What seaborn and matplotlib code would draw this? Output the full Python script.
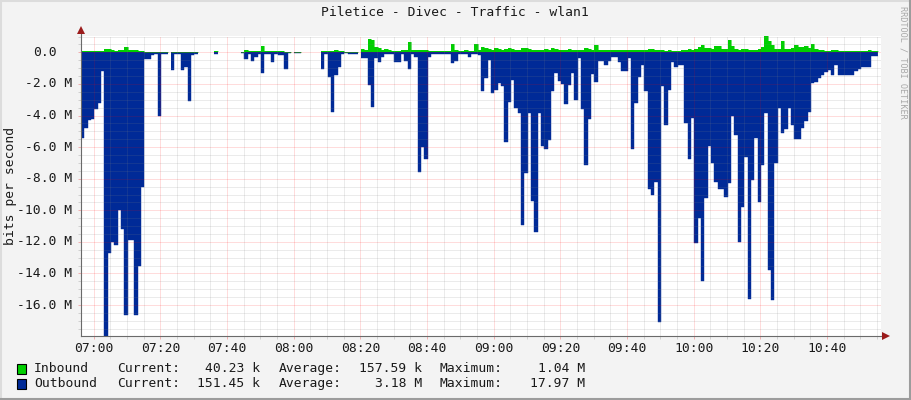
import numpy as np
import matplotlib
matplotlib.use("Agg")
import matplotlib.pyplot as plt
from matplotlib.lines import Line2D
from matplotlib.patches import Rectangle
from matplotlib.ticker import MultipleLocator, NullFormatter
import seaborn as sns

nan = np.nan

# one sample per minute, first sample starts 3.8 min before 07:00
start_minute = -3.8
step_minutes = 1.0

# outbound traffic in Mbit/s (drawn below zero)
outbound = [
    5.4, 4.8, 4.3, 4.2, 3.6, 3.2, 1.2, 17.97, 12.7, 12.0,
    12.2, 10.0, 11.2, 16.6, 11.9, 11.9, 16.6, 13.5, 8.5, 0.4,
    0.4, 0.2, 0.1, 4.0, 0.1, 0.1, nan, 1.1, 0.1, 0.1,
    1.1, 0.9, 3.06, 0.15, 0.1, nan, nan, nan, nan, nan,
    0.1, nan, nan, nan, nan, nan, nan, nan, 0.05, 0.4,
    0.1, 0.53, 0.27, 0.1, 1.3, 0.1, 0.1, 0.6, 0.1, 0.2,
    0.2, 1.05, 0.05, nan, 0.05, 0.05, nan, nan, nan, nan,
    nan, nan, 1.05, 0.1, 1.55, 3.8, 1.43, 0.9, 0.1, 0.02,
    0.1, 0.1, 0.1, nan, 0.38, 0.38, 2.07, 3.44, 0.38, 0.6,
    0.27, 0.1, 0.1, 0.1, 0.6, 0.6, 0.1, 0.53, 1.07, 0.1,
    0.27, 7.55, 5.97, 6.77, 0.27, 0.1, 0.1, 0.1, 0.1, 0.1,
    0.1, 0.7, 0.53, 0.1, 0.1, 0.1, 0.27, 0.1, 0.1, 0.17,
    2.43, 1.65, 0.49, 2.55, 2.38, 1.92, 2.13, 5.65, 3.12, 1.75,
    3.5, 3.82, 10.9, 7.66, 3.82, 9.39, 11.35, 3.82, 5.9, 6.14,
    5.55, 2.43, 1.29, 1.79, 2.0, 3.3, 2.07, 1.29, 3.0, 0.38,
    3.6, 7.13, 4.24, 1.37, 1.86, 0.53, 0.53, 0.8, 0.53, 0.3,
    0.3, 0.6, 1.16, 1.16, 0.38, 6.14, 3.23, 1.54, 0.8, 2.45,
    8.67, 9.03, 8.19, 17.1, 2.13, 4.6, 2.38, 0.6, 0.9, 0.8,
    0.8, 4.45, 6.75, 4.18, 12.1, 10.5, 14.5, 9.24, 5.93, 7.03,
    8.19, 8.67, 8.67, 9.14, 8.25, 4.03, 5.23, 12.0, 9.77, 6.6,
    15.6, 8.08, 5.44, 9.45, 7.13, 3.86, 13.78, 15.7, 7.03, 3.5,
    5.13, 4.87, 3.54, 4.6, 5.5, 5.5, 4.81, 4.32, 3.75, 1.96,
    1.86, 1.65, 1.43, 1.22, 1.12, 1.43, 0.8, 1.43, 1.43, 1.43,
    1.43, 1.43, 1.18, 1.07, 0.95, 0.95, 0.9, 0.23, 0.23,
]

# inbound traffic in Mbit/s (drawn above zero)
inbound = [
    0.08, 0.08, 0.08, 0.1, 0.08, 0.08, 0.1, 0.2, 0.2, 0.12,
    0.1, 0.12, 0.15, 0.35, 0.15, 0.12, 0.15, 0.1, 0.08, 0.05,
    0.05, 0.05, 0.04, 0.04, 0.04, 0.04, nan, 0.04, 0.04, 0.04,
    0.04, 0.04, 0.04, 0.04, 0.04, nan, nan, nan, nan, nan,
    0.06, nan, nan, nan, nan, nan, nan, nan, 0.05, 0.12,
    0.1, 0.08, 0.1, 0.08, 0.4, 0.08, 0.08, 0.06, 0.08, 0.06,
    0.06, 0.05, 0.04, nan, 0.02, 0.02, nan, nan, nan, nan,
    nan, nan, 0.06, 0.06, 0.08, 0.1, 0.12, 0.1, 0.06, 0.03,
    0.04, 0.04, 0.04, nan, 0.2, 0.15, 0.82, 0.8, 0.36, 0.25,
    0.15, 0.2, 0.12, 0.1, 0.1, 0.1, 0.12, 0.15, 0.63, 0.15,
    0.12, 0.15, 0.12, 0.15, 0.1, 0.08, 0.08, 0.1, 0.08, 0.08,
    0.08, 0.53, 0.15, 0.1, 0.08, 0.12, 0.1, 0.08, 0.53, 0.15,
    0.36, 0.3, 0.2, 0.15, 0.25, 0.2, 0.15, 0.2, 0.25, 0.2,
    0.15, 0.15, 0.3, 0.3, 0.2, 0.15, 0.15, 0.12, 0.15, 0.2,
    0.15, 0.3, 0.2, 0.15, 0.15, 0.15, 0.2, 0.15, 0.15, 0.12,
    0.15, 0.25, 0.2, 0.15, 0.46, 0.15, 0.15, 0.12, 0.15, 0.12,
    0.15, 0.15, 0.15, 0.12, 0.15, 0.15, 0.12, 0.15, 0.15, 0.15,
    0.2, 0.2, 0.15, 0.15, 0.12, 0.1, 0.12, 0.1, 0.08, 0.1,
    0.12, 0.15, 0.2, 0.15, 0.2, 0.36, 0.46, 0.3, 0.25, 0.2,
    0.42, 0.4, 0.2, 0.2, 0.78, 0.4, 0.2, 0.15, 0.2, 0.2,
    0.15, 0.15, 0.15, 0.2, 0.36, 1.04, 0.74, 0.46, 0.2, 0.2,
    0.72, 0.2, 0.2, 0.3, 0.46, 0.36, 0.36, 0.4, 0.25, 0.53,
    0.2, 0.15, 0.12, 0.1, 0.1, 0.12, 0.15, 0.1, 0.1, 0.1,
    0.1, 0.08, 0.1, 0.08, 0.1, 0.1, 0.15, 0.1, 0.08,
]

x_tick_minutes = [0, 20, 40, 60, 80, 100, 120, 140, 160, 180, 200, 220]
x_tick_labels = ["07:00", "07:20", "07:40", "08:00", "08:20", "08:40",
                 "09:00", "09:20", "09:40", "10:00", "10:20", "10:40"]
y_tick_values = [0, -2e6, -4e6, -6e6, -8e6, -10e6, -12e6, -14e6, -16e6]
y_tick_labels = ["0.0", "-2.0 M", "-4.0 M", "-6.0 M", "-8.0 M",
                 "-10.0 M", "-12.0 M", "-14.0 M", "-16.0 M"]

legend_names = ["Inbound", "Outbound"]
legend_current = ["40.23 k", "151.45 k"]
legend_average = ["157.59 k", "3.18 M"]
legend_maximum = ["1.04 M", "17.97 M"]

IN_COLOR = "#00CF00"
OUT_COLOR = "#002A97"

sns.set_theme(style="white")
plt.rcParams["font.family"] = ["DejaVu Sans Mono", "DejaVu Sans"]
FS = 9.4

W, H = 911, 400
fig = plt.figure(figsize=(W / 100, H / 100), dpi=100, facecolor="#F3F3F3")

def fx(px):
    return px / W

def fy(py):
    return 1 - py / H

ax = fig.add_axes([fx(80.5), fy(336.2), 800 / W, 300.3 / H])
ax.set_facecolor("white")

# step shaped areas: each sample covers one minute
edges = start_minute + step_minutes * np.arange(len(outbound) + 1)
xs = np.repeat(edges, 2)[1:-1]
out_y = -np.repeat(np.array(outbound, dtype=float), 2) * 1e6
in_y = np.repeat(np.array(inbound, dtype=float), 2) * 1e6

ax.fill_between(xs, 0, in_y, color=IN_COLOR, linewidth=0, zorder=1)
ax.fill_between(xs, 0, out_y, color=OUT_COLOR, linewidth=0, zorder=1)

# thin outline per contiguous run (keeps the gaps open)
valid = ~np.isnan(out_y)
run_id = np.cumsum(np.r_[True, valid[1:] != valid[:-1]])
for rid in np.unique(run_id[valid]):
    m = (run_id == rid) & valid
    sns.lineplot(x=xs[m], y=out_y[m], estimator=None, sort=False,
                 color=OUT_COLOR, linewidth=0.3, ax=ax, zorder=1.2)
    sns.lineplot(x=xs[m], y=in_y[m], estimator=None, sort=False,
                 color=IN_COLOR, linewidth=0.4, ax=ax, zorder=1.2)

ax.set_xlim(-3.95, 236.05)
ax.set_ylim(-17.97e6, 1.04e6)

ax.xaxis.set_major_locator(MultipleLocator(20))
ax.xaxis.set_minor_locator(MultipleLocator(5))
ax.yaxis.set_major_locator(MultipleLocator(2e6))
ax.yaxis.set_minor_locator(MultipleLocator(0.5e6))
ax.xaxis.set_major_formatter(NullFormatter())
ax.yaxis.set_major_formatter(NullFormatter())

ax.set_axisbelow(False)
dot = (0, (1, 1))
ax.grid(which="minor", color="#808080", alpha=0.3, linestyle=dot, linewidth=0.72)
ax.grid(which="major", color="#FF0000", alpha=0.27, linestyle=dot, linewidth=0.72)

ax.tick_params(which="both", direction="out", length=2, width=0.72,
               bottom=True, left=True, labelbottom=False, labelleft=False)
ax.tick_params(which="major", colors="#F0B0B0")
ax.tick_params(which="minor", colors="#D0D0D0")

for s in ["top", "right"]:
    ax.spines[s].set_visible(False)
for s in ["left", "bottom"]:
    ax.spines[s].set_color("#6A6A6A")
    ax.spines[s].set_linewidth(0.8)
    ax.spines[s].set_zorder(4)

# axis arrows, like rrdtool draws them
ax.plot([0, 0], [1, 1.022], transform=ax.transAxes, color="#6A6A6A",
        linewidth=0.8, clip_on=False, zorder=4)
ax.plot([1, 1.005], [0, 0], transform=ax.transAxes, color="#6A6A6A",
        linewidth=0.8, clip_on=False, zorder=4)
ax.plot([0], [1.018], transform=ax.transAxes, marker="^", markersize=5.5,
        color="#9B1B1B", clip_on=False, zorder=5, markeredgewidth=0)
ax.plot([1.0065], [0], transform=ax.transAxes, marker=">", markersize=5.5,
        color="#9B1B1B", clip_on=False, zorder=5, markeredgewidth=0)

# tick labels
for v, lab in zip(y_tick_values, y_tick_labels):
    off = -8 - (16 if v == 0 else 0)
    ax.annotate(lab, xy=(0, v), xycoords=("axes fraction", "data"),
                xytext=(off, 0), textcoords="offset pixels",
                ha="right", va="center", fontsize=FS, color="#1A1A1A")
for t, lab in zip(x_tick_minutes, x_tick_labels):
    ax.annotate(lab, xy=(t, 0), xycoords=("data", "axes fraction"),
                xytext=(0, -12), textcoords="offset pixels",
                ha="center", va="center", fontsize=FS, color="#1A1A1A")

# titles
fig.text(fx(455), fy(13), "Piletice - Divec - Traffic - wlan1",
         ha="center", va="center", fontsize=FS, color="#1A1A1A")
fig.text(fx(11), fy(186), "bits per second", rotation=90,
         ha="center", va="center", fontsize=FS, color="#1A1A1A")
fig.text(fx(903), fy(6), "RRDTOOL / TOBI OETIKER", rotation=-90,
         ha="center", va="top", fontsize=6.1, color="#A8A8A8")

# legend rows
row_y = [368.5, 383.5]
colors = [IN_COLOR, OUT_COLOR]
for i in range(2):
    y = row_y[i]
    fig.add_artist(Rectangle((fx(17), fy(y + 5)), 9 / W, 10 / H,
                             facecolor=colors[i], edgecolor="black",
                             linewidth=0.8, transform=fig.transFigure))
    fig.text(fx(34), fy(y), legend_names[i], ha="left", va="center", fontsize=FS, color="#1A1A1A")
    fig.text(fx(117), fy(y), "Current:", ha="left", va="center", fontsize=FS, color="#1A1A1A")
    fig.text(fx(260), fy(y), legend_current[i], ha="right", va="center", fontsize=FS, color="#1A1A1A")
    fig.text(fx(279), fy(y), "Average:", ha="left", va="center", fontsize=FS, color="#1A1A1A")
    fig.text(fx(422), fy(y), legend_average[i], ha="right", va="center", fontsize=FS, color="#1A1A1A")
    fig.text(fx(440), fy(y), "Maximum:", ha="left", va="center", fontsize=FS, color="#1A1A1A")
    fig.text(fx(585), fy(y), legend_maximum[i], ha="right", va="center", fontsize=FS, color="#1A1A1A")

# 3d frame round the picture
fig.add_artist(Line2D([0, 1], [fy(1), fy(1)], transform=fig.transFigure, color="#DCDCDC", linewidth=1.5))
fig.add_artist(Line2D([fx(1), fx(1)], [0, 1], transform=fig.transFigure, color="#DCDCDC", linewidth=1.5))
fig.add_artist(Line2D([0, 1], [fy(399), fy(399)], transform=fig.transFigure, color="#9C9C9C", linewidth=1.5))
fig.add_artist(Line2D([fx(910), fx(910)], [0, 1], transform=fig.transFigure, color="#9C9C9C", linewidth=1.5))

fig.savefig("out.png", dpi=100, facecolor=fig.get_facecolor())
